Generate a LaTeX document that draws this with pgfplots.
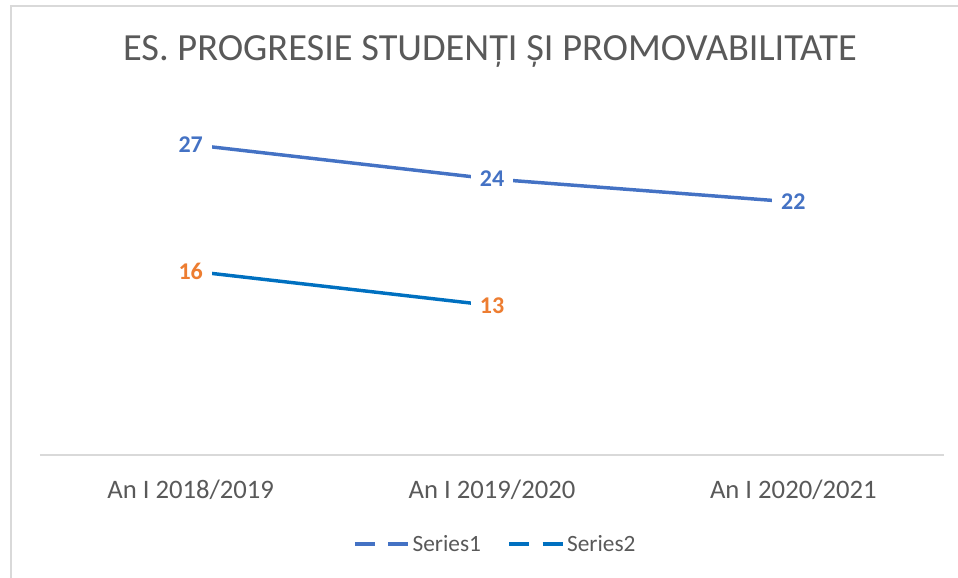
\documentclass[border=0pt]{standalone}
\usepackage{pgfplots}
\pgfplotsset{compat=1.18}
\usepackage{fontspec}
\setmainfont{Carlito}
\definecolor{s1}{HTML}{4472C4}
\definecolor{s2}{HTML}{0070C0}
\definecolor{lab2}{HTML}{ED7D31}
\definecolor{txt}{HTML}{595959}
\definecolor{gridc}{HTML}{D9D9D9}
\begin{document}
\begin{tikzpicture}[x=0.75pt,y=0.75pt]
\useasboundingbox (0,0) rectangle (958,578);
\draw[gridc, line width=1.5pt] (11,0) -- (11,572) -- (958,572);
\node[text=txt, font=\fontsize{28.8}{32}\selectfont] at (490,527) {ES. PROGRESIE STUDENȚI ȘI PROMOVABILITATE};
\begin{axis}[
  at={(30pt,92.25pt)}, anchor=south west,
  scale only axis, width=678pt, height=258.75pt,
  xmin=-0.5, xmax=2.5, ymin=0, ymax=30,
  axis y line=none,
  axis x line*=bottom,
  x axis line style={gridc, line width=1.5pt},
  xtick={0,1,2},
  xticklabels={An I 2018/2019, An I 2019/2020, An I 2020/2021},
  major tick length=0pt,
  xticklabel style={anchor=center, yshift=-26.25pt, font=\fontsize{20}{24}\selectfont, text=txt},
  clip=false,
  /pgf/number format/assume math mode=true,
  legend style={at={(0.504,-0.258)}, anchor=center, draw=none, fill=none,
    legend columns=2, font=\fontsize{17.5}{20}\selectfont, text=txt,
    /tikz/every even column/.append style={column sep=18pt}},
  legend image code/.code={\draw[#1, dash pattern=on 15pt off 10pt, line width=2.6pt] (0pt,0pt) -- (40pt,0pt);},
  legend cell align=left,
  nodes near coords,
  every node near coord/.append style={anchor=center, fill=white, inner xsep=7pt, inner ysep=2pt, font=\bfseries\fontsize{18}{21}\selectfont},
]
\addplot[s1, line width=2.6pt, nodes near coords style={text=s1}] coordinates {(0,27) (1,24) (2,22)};
\addlegendentry{Series1}
\addplot[s2, line width=2.6pt, nodes near coords style={text=lab2}] coordinates {(0,16) (1,13)};
\addlegendentry{Series2}
\end{axis}
\end{tikzpicture}
\end{document}
